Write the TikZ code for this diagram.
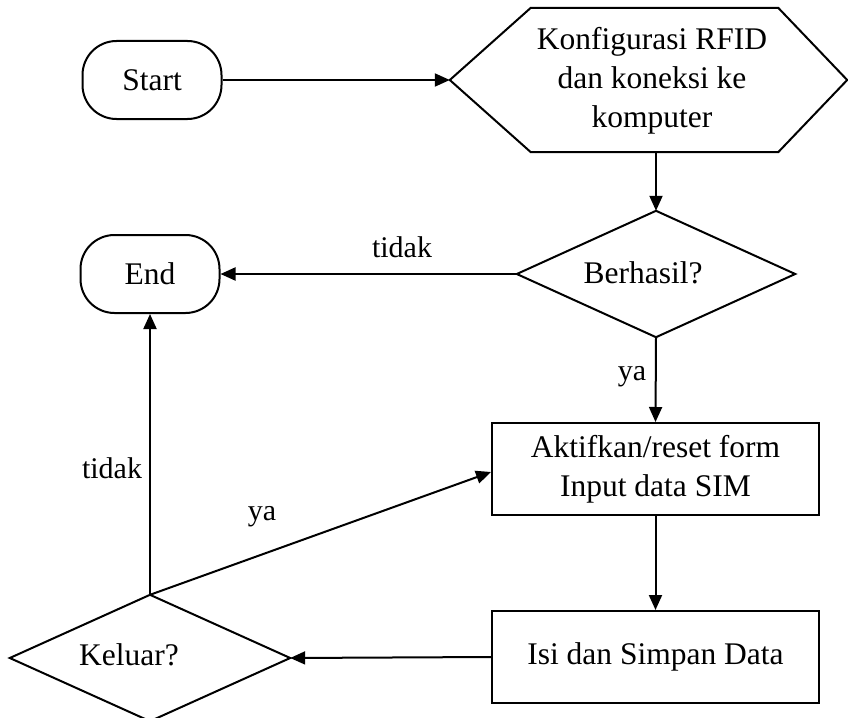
\documentclass[tikz,border=0pt]{standalone}
\usepackage{fontspec}
\setmainfont{Liberation Serif}
\usetikzlibrary{arrows.meta,calc}
\begin{document}
\begin{tikzpicture}[x=1pt,y=-1pt,
  every node/.style={font=\fontsize{31.5}{39}\selectfont, inner sep=0pt, align=center},
  line/.style={line width=2pt, line join=miter},
  arr/.style={line width=2pt,-{Triangle[length=15pt,width=13pt]}},
  term/.style={draw,line width=2pt,rounded corners=34pt,minimum width=139pt,minimum height=78pt},
  proc/.style={draw,line width=2pt,minimum width=327pt,minimum height=92pt},
  lbl/.style={font=\fontsize{30}{36}\selectfont}
]
\useasboundingbox (0,0) rectangle (848,717);

% terminals
\node[term] (start) at (152,80) {Start};
\node[term] (end) at (150,274) {End};

% hexagon
\node[minimum width=397pt, minimum height=144pt] (hex) at (648.5,80) {};
\draw[line] (hex.west) -- ($(hex.north west)+(81,0)$) -- ($(hex.north east)+(-69,0)$) -- (hex.east) -- ($(hex.south east)+(-69,0)$) -- ($(hex.south west)+(81,0)$) -- cycle;
\node (hextext) at (652,81) {Konfigurasi RFID\\dan koneksi ke\\komputer};

% decision Berhasil
\node[minimum width=278pt, minimum height=126pt] (ber) at (656,274) {};
\draw[line] (ber.west) -- (ber.north) -- (ber.east) -- (ber.south) -- cycle;
\node (bertext) at (643,273) {Berhasil?};

% processes
\node[proc] (akt) at (655.5,469) {Aktifkan/reset form\\Input data SIM};
\node[proc] (isi) at (655.5,657) {Isi dan Simpan Data};

% decision Keluar
\node[minimum width=280pt, minimum height=126pt] (kel) at (150,658) {};
\draw[line] (kel.west) -- (kel.north) -- (kel.east) -- (kel.south) -- cycle;
\node (keltext) at (129,655) {Keluar?};

% connectors
\draw[arr] (start.east) -- (hex.west);
\draw[arr] (hex.south -| ber.north) -- (ber.north);
\draw[arr] (ber.west) -- (end.east);
\draw[arr] (ber.south) -- (akt.north);
\draw[arr] (akt.south) -- (isi.north);
\draw[arr] (isi.west) -- (kel.east);
\draw[arr] (kel.north) -- (end.south);
\draw[arr] (kel.north) -- ($(akt.west)+(0,3)$);

% labels
\node[lbl] (l1) at (402,247) {tidak};
\node[lbl] (l2) at (632,377) {ya};
\node[lbl] (l3) at (112,468) {tidak};
\node[lbl] (l4) at (262,517) {ya};
\end{tikzpicture}
\end{document}
